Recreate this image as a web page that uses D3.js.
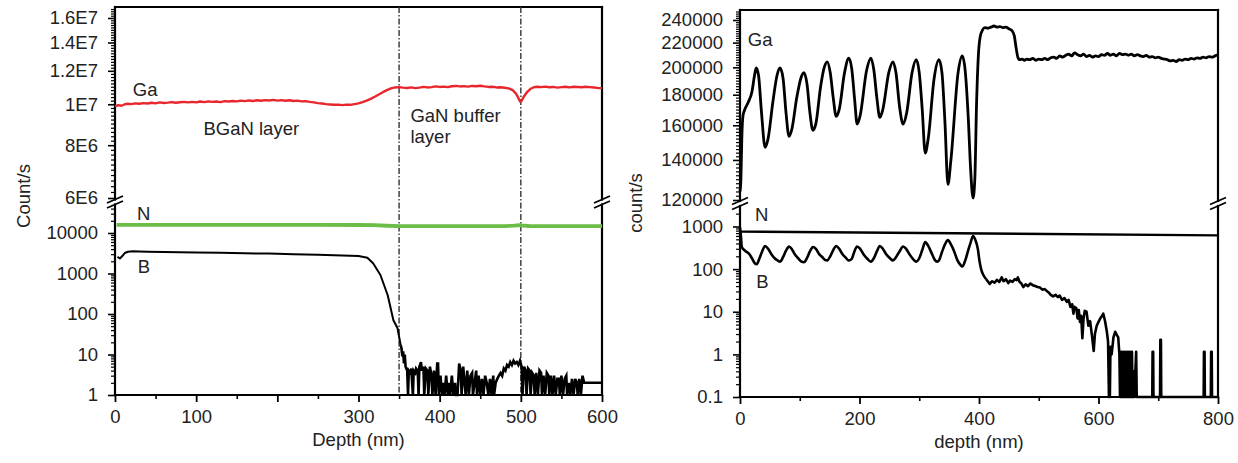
<!DOCTYPE html>
<html>
<head>
<meta charset="utf-8">
<script src="https://cdn.jsdelivr.net/npm/d3@7"></script>
<style>
  body { margin: 0; background: #fff; }
  svg { display: block; font-family: "Liberation Sans", Arial, sans-serif; }
</style>
</head>
<body>
<svg id="chart" width="1238" height="463"></svg>
<script>
// ---------- Left panel: BGaN on GaN buffer, depth (nm) vs counts/s ----------
const leftGa = [[0,9.89e6],[4,9.95e6],[8,9.92e6],[12,10.0e6],[16,10.03e6],[20,10.01e6],[25,10.05e6],[30,10.03e6],[35,10.06e6],[40,10.04e6],[45,10.08e6],[50,10.05e6],[55,10.1e6],[60,10.07e6],[65,10.09e6],[70,10.12e6],[75,10.08e6],[80,10.11e6],[85,10.13e6],[90,10.1e6],[95,10.13e6],[100,10.1e6],[105,10.15e6],[110,10.12e6],[115,10.16e6],[120,10.13e6],[125,10.15e6],[130,10.12e6],[135,10.17e6],[140,10.15e6],[145,10.18e6],[150,10.16e6],[155,10.2e6],[160,10.17e6],[165,10.21e6],[170,10.18e6],[175,10.22e6],[180,10.19e6],[185,10.23e6],[190,10.21e6],[195,10.24e6],[200,10.2e6],[205,10.23e6],[210,10.19e6],[215,10.22e6],[220,10.18e6],[225,10.2e6],[230,10.16e6],[235,10.17e6],[240,10.13e6],[245,10.1e6],[250,10.06e6],[255,10.04e6],[260,10.01e6],[265,9.99e6],[270,9.97e6],[275,9.98e6],[280,9.95e6],[285,9.98e6],[290,9.97e6],[295,10.01e6],[300,10.05e6],[305,10.12e6],[310,10.2e6],[315,10.3e6],[320,10.42e6],[325,10.55e6],[330,10.68e6],[335,10.8e6],[340,10.9e6],[345,10.96e6],[350,10.98e6],[355,10.95e6],[360,10.93e6],[365,10.96e6],[370,10.92e6],[375,10.95e6],[380,10.99e6],[385,10.96e6],[390,10.98e6],[395,11.02e6],[400,10.99e6],[405,11.01e6],[410,10.98e6],[415,11.03e6],[420,11.05e6],[425,11.02e6],[430,11.04e6],[435,11.01e6],[440,11.05e6],[445,11.03e6],[450,11.06e6],[455,11.02e6],[460,10.99e6],[465,11.0e6],[470,10.96e6],[475,10.97e6],[480,10.94e6],[485,10.9e6],[490,10.8e6],[494,10.6e6],[497,10.35e6],[499,10.15e6],[501,10.2e6],[504,10.45e6],[508,10.7e6],[512,10.88e6],[516,10.97e6],[520,11.0e6],[525,10.98e6],[530,11.01e6],[535,10.97e6],[540,10.99e6],[545,10.95e6],[550,10.98e6],[555,11.0e6],[560,10.96e6],[565,11.0e6],[570,10.99e6],[575,10.97e6],[580,11.0e6],[585,10.98e6],[590,10.96e6],[595,10.93e6],[600,10.92e6]];

const leftN = [[2,15800],[40,15900],[80,15800],[120,15900],[160,15800],[200,15850],[250,15800],[300,15750],[320,15600],[335,15100],[350,14800],[400,14850],[450,14800],[480,14850],[492,15200],[498,15600],[503,15300],[510,14900],[550,14800],[600,14750]];

const leftB = [[3,2600],[6,2350],[9,2700],[12,3200],[16,3450],[22,3550],[30,3500],[40,3450],[60,3400],[80,3350],[100,3300],[130,3250],[160,3150],[190,3100],[220,3000],[250,2900],[280,2800],[300,2700],[311,2450],[318,1800],[327,920],[336,290],[343,70],[348,45],[352,17],
  [353,14],[354,9],[355,12],[356,6],[357,10],[358,5],[360,4],[361,1],[362,4],[364,3.5],[365,4.5],[367,1],[368,4],[370,3.5],[371,4.5],[373,4],[374,1],[375,5],[377,6.5],[378,4],[380,5],[381,1],[383,4.5],[385,4],[386,1],[388,5],[390,3],[391,1],[393,4],[395,1],[397,6],[398,6],[399,1],[401,3],[403,1],[405,2],[406,1],[408,3],[410,1],[412,2],[413,1],[415,3],[417,1],[419,2],[420,1],[422,1],[424,6],[426,4],[427,1],[429,5],[430,3],[432,1],[434,4],[436,1],[438,3],[440,3.5],[441,1],[443,2],[445,4],[446,1],[448,3],[450,1],[452,2.5],[454,1],[456,3],[458,2],[460,1],[462,2.5],[464,1],[466,3],[467,1],[469,2],[471,2.5],[473,3],[475,3.5],[477,3],[479,4.5],[481,4],[483,5.5],[485,5],[487,6.5],[489,5.5],[491,7],[493,6],[495,6.5],[497,5.5],[499,7],[501,5],[502,1],[504,5],[506,4],[507,1],[509,4.5],[511,4],[512,1],[514,3.5],[516,3],[517,1],[519,3.5],[521,1],[523,4],[525,3.5],[526,1],[528,3],[530,1],[532,3.5],[534,3],[535,1],[537,3],[539,1],[541,3],[543,1],[545,2.5],[547,2.5],[548,1],[550,3],[552,1],[554,2.5],[556,3],[557,1],[559,2],[561,1],[563,2.5],[565,1],[567,2.5],[569,2],[570,1],[572,2.5],[574,1],[576,3],[578,2],[580,2],[584,2],[588,2],[592,2],[596,2],[600,2]];

const layerBoundaries = [350, 500];

const leftXTicks = [0, 100, 200, 300, 400, 500, 600];
const leftXLabels = ["0", "100", "", "300", "400", "500", "600"];
const leftXMinor = [50, 150, 250, 350, 450, 550];
const leftUpperTicks = [6e6, 8e6, 1e7, 1.2e7, 1.4e7, 1.6e7];
const leftUpperLabels = ["6E6", "8E6", "1E7", "1.2E7", "1.4E7", "1.6E7"];
const leftLowerTicks = [1, 10, 100, 1000, 10000];
const leftLowerLabels = ["1", "10", "100", "1000", "10000"];

// ---------- Right panel: depth (nm) vs count/s ----------
const rightGa = [[0,124000],[1.5,130000],[3,152000],[5,166000],[8,170000],[14,175000],[20,182000],[24,193000],[27,199500],[31,194000],[36,168000],[42,147000],[47,152000],[55,175000],[62,194000],[67,199500],[72,192000],[77,168000],[82,153400],[87,158000],[95,178000],[102,192000],[107,196000],[112,188000],[117,168000],[122,156900],[127,161000],[135,186000],[141,200000],[146,204300],[151,196000],[156,178000],[161,165600],[166,170000],[175,196000],[182,207300],[187,199000],[192,176000],[196,160700],[201,166000],[212,198000],[219,207300],[224,198000],[229,178000],[234,164900],[239,170000],[249,196000],[256,204300],[261,196000],[267,172000],[273,160700],[279,168000],[288,196000],[295,206000],[300,196000],[305,170000],[310,143700],[315,152000],[325,192000],[333,206000],[338,196000],[343,162000],[348,127400],[353,140000],[365,196000],[372,209000],[377,197000],[382,165000],[386,135000],[390,120900],[393,130000],[396,175000],[399,210000],[402,225000],[406,231000],[410,233000],[415,232500],[420,233500],[425,234500],[430,233500],[435,234000],[440,233000],[445,233500],[450,232000],[455,230500],[459,226000],[462,216000],[465,208000],[468,206000],[472,206500],[476,205500],[480,206500],[485,206000],[490,207000],[495,205500],[500,206500],[505,206000],[510,207000],[515,206000],[520,207500],[525,208000],[530,207000],[535,209000],[540,208000],[545,209500],[550,210500],[555,209000],[560,211500],[565,210000],[570,209000],[575,210500],[580,208500],[585,209500],[590,208000],[595,209000],[600,208500],[605,210000],[610,209500],[615,211000],[620,209500],[625,210500],[630,209000],[635,211000],[640,210000],[645,210500],[650,209500],[655,210500],[660,209000],[665,210000],[670,209000],[675,208500],[680,209500],[685,208000],[690,208500],[695,207500],[700,208000],[705,207000],[710,206500],[715,206000],[720,205000],[725,205500],[730,204500],[735,206000],[740,205500],[745,206500],[750,206000],[755,207000],[760,206500],[765,207500],[770,207000],[775,208000],[780,207500],[785,208500],[790,208000],[795,209000],[800,210000]];

const rightN = [[0, 760], [800, 620]];

const rightB = [[0,950],[1.5,600],[3,330],[6,290],[10,260],[15,230],[20,180],[25,135],[28,130],[32,170],[37,260],[42,350],[47,300],[52,230],[58,180],[63,160],[67,150],[72,190],[77,270],[82,340],[87,290],[92,220],[98,175],[103,150],[107,145],[112,180],[117,260],[122,330],[127,300],[132,230],[138,190],[142,165],[146,160],[151,200],[156,280],[161,350],[166,300],[171,230],[177,185],[182,160],[187,175],[191,250],[196,340],[201,300],[207,220],[213,175],[219,150],[224,180],[229,260],[234,350],[239,300],[245,220],[251,180],[256,160],[261,190],[267,260],[273,340],[278,300],[284,220],[290,170],[295,150],[300,180],[305,280],[310,430],[315,350],[320,250],[326,165],[330,150],[333,160],[338,250],[343,380],[348,480],[353,380],[358,270],[364,160],[369,125],[372,115],[377,160],[382,280],[386,420],[390,600],[394,480],[398,300],[401,150],[404,95],[408,70],[412,58],[418,45],
  [422,52],[426,48],[430,56],[434,50],[438,64],[441,52],[445,58],[449,47],[452,54],[456,50],[460,58],[463,55],[465,64],[468,50],[471,46],[474,38],[478,44],[482,40],[486,46],[490,42],[494,40],[498,38],[502,37],[506,33],[510,34],[513,31],[517,28],[520,25],[524,23],[528,25],[532,22],[535,24],[539,19],[543,21],[547,17],[550,19],[553,13],[556,15],[558,9],[560,13],[563,12],[565,7],[567,11],[569,5.8],[571,8],[573,2.4],[575,7],[577,10.5],[580,10],[583,4.7],[586,6],[589,2.8],[592,1.2],[594,3],[597,4.7],[600,5.8],[603,7],[606,8],[608,9],[611,6],[614,3.4],[616,2],[617.5,0],[619,0],[620,1.5],[622,1],[625,2.5],[628,3.4],[631,2.8],[633,2.5],[635,1],[636,0],[638,1.15],[639,0],[641,1.15],[642,0],[644,1.15],[645,0],[647,1.15],[648,0],[650,1.15],[651,0],[653,1.15],[654,0],[656,1.15],[657,0],[659,0.4],[660,0],[663,1.15],[664,0],[690,0],[690.5,1.15],[691.5,1.15],[692,0],[703,0],[703.5,2.2],[704.5,2.2],[705,0],[776,0],[776.5,1.15],[777.5,1.15],[778,0],[788,0],[788.5,1.15],[789.5,1.15],[790,0],[800,0]];

const rightXTicks = [0, 200, 400, 600, 800];
const rightXMinor = [100, 300, 500, 700];
const rightUpperTicks = [120000, 140000, 160000, 180000, 200000, 220000, 240000];
const rightLowerTicks = [0.1, 1, 10, 100, 1000];
const rightLowerLabels = ["0.1", "1", "10", "100", "1000"];

// ---------- drawing ----------
const svg = d3.select("#chart");
const FS = 18.5;

function logMinor(lo, hi) {
  const out = [];
  for (let d = Math.floor(Math.log10(lo)); d <= Math.ceil(Math.log10(hi)); d++) {
    for (let k = 2; k <= 9; k++) {
      const v = k * Math.pow(10, d);
      if (v > lo && v < hi) out.push(v);
    }
  }
  return out;
}

function drawPanel(p) {
  const g = svg.append("g");
  const { x, yU, yL } = p;
  const [x0, x1] = x.range();

  // y axis ticks: upper and lower segments, both logarithmic
  const yAxes = [
    { s: yU, ticks: p.upperTicks, labels: p.upperLabels, minor: p.upperMinor },
    { s: yL, ticks: p.lowerTicks, labels: p.lowerLabels, minor: p.lowerMinor }
  ];
  yAxes.forEach(a => {
    g.append("g").attr("transform", `translate(${x0},0)`)
      .call(d3.axisLeft(a.s).tickValues(a.minor).tickSize(4).tickFormat(""))
      .call(s => s.select(".domain").remove())
      .call(s => s.selectAll("line").attr("stroke", "#000").attr("stroke-width", 1.2));
    g.append("g").attr("transform", `translate(${x0},0)`)
      .call(d3.axisLeft(a.s).tickValues(a.ticks).tickSize(7).tickPadding(10)
        .tickFormat((d, i) => a.labels[i]))
      .call(s => s.select(".domain").remove())
      .call(s => s.selectAll("line").attr("stroke", "#000").attr("stroke-width", 1.6))
      .call(s => s.selectAll("text").attr("font-size", FS).attr("fill", "#222")
        .attr("font-family", '"Liberation Sans", Arial, sans-serif'));
  });

  // x axis
  const xg = g.append("g").attr("transform", `translate(0,${p.bottom})`);
  xg.append("g")
    .call(d3.axisBottom(x).tickValues(p.xMinor).tickSize(4).tickFormat(""))
    .call(s => s.select(".domain").remove())
    .call(s => s.selectAll("line").attr("stroke", "#000").attr("stroke-width", 1.6));
  xg.append("g")
    .call(d3.axisBottom(x).tickValues(p.xTicks).tickSize(7).tickPadding(8)
      .tickFormat((d, i) => p.xLabels[i]))
    .call(s => s.select(".domain").remove())
    .call(s => s.selectAll("line").attr("stroke", "#000").attr("stroke-width", 1.8))
    .call(s => s.selectAll("text").attr("font-size", FS).attr("fill", "#222")
      .attr("font-family", '"Liberation Sans", Arial, sans-serif'));

  // frame with axis breaks
  const frame = [
    [x0, p.top, x1, p.top],
    [x0, p.bottom, x1, p.bottom],
    [x0, p.top, x0, p.brkUp], [x0, p.brkLo, x0, p.bottom],
    [x1, p.top, x1, p.brkUp], [x1, p.brkLo, x1, p.bottom]
  ];
  g.append("g").selectAll("line").data(frame).join("line")
    .attr("x1", d => d[0]).attr("y1", d => d[1]).attr("x2", d => d[2]).attr("y2", d => d[3])
    .attr("stroke", "#000").attr("stroke-width", 2.2).attr("stroke-linecap", "square");

  // break marks "//"
  const marks = [];
  [x0, x1].forEach(cx => [p.brkUp, p.brkLo].forEach(cy => marks.push([cx, cy])));
  g.append("g").selectAll("line").data(marks).join("line")
    .attr("x1", d => d[0] - 8).attr("y1", d => d[1] + 3.5)
    .attr("x2", d => d[0] + 8).attr("y2", d => d[1] - 3.5)
    .attr("stroke", "#000").attr("stroke-width", 1.8);

  // axis titles
  g.append("text").attr("x", (x0 + x1) / 2).attr("y", p.bottom + 51)
    .attr("text-anchor", "middle").attr("font-size", FS).attr("fill", "#222").text(p.xTitle);
  g.append("text")
    .attr("transform", `translate(${p.yTitleX},${p.yTitleY}) rotate(-90)`)
    .attr("text-anchor", "middle").attr("font-size", FS).attr("fill", "#222").text(p.yTitle);

  return g;
}

// Left panel scales
const xL = d3.scaleLinear([0, 600], [115, 602]);
const yLU = d3.scaleLog([6e6, 1.6e7], [198, 18]);
const yLL = d3.scaleLog([1, 1e4], [395, 233]);
const leftPanel = {
  x: xL, yU: yLU, yL: yLL, top: 7, bottom: 395, brkUp: 199.5, brkLo: 204.5,
  upperTicks: leftUpperTicks, upperLabels: leftUpperLabels,
  upperMinor: d3.range(6.2e6, 1.7e7, 2e5).filter(v => Math.abs(v / 2e6 - Math.round(v / 2e6)) > 0.01),
  lowerTicks: leftLowerTicks, lowerLabels: leftLowerLabels,
  lowerMinor: logMinor(1, 45000),
  xTicks: leftXTicks, xLabels: leftXLabels, xMinor: leftXMinor,
  xTitle: "Depth (nm)", yTitle: "Count/s", yTitleX: 30, yTitleY: 196
};
const gl = drawPanel(leftPanel);

// layer boundaries (dash-dot)
gl.append("g").selectAll("line").data(layerBoundaries).join("line")
  .attr("x1", d => xL(d)).attr("x2", d => xL(d))
  .attr("y1", leftPanel.top).attr("y2", leftPanel.bottom)
  .attr("stroke", "#333").attr("stroke-width", 1.4).attr("stroke-dasharray", "6,2,1.5,2");

const lowL = v => yLL(Math.max(v, 1));
gl.append("path").datum(leftN)
  .attr("d", d3.line().x(d => xL(d[0])).y(d => lowL(d[1])))
  .attr("fill", "none").attr("stroke", "#6cbd47").attr("stroke-width", 3.8);
gl.append("path").datum(leftB.filter(d => d[0] <= 352))
  .attr("d", d3.line().x(d => xL(d[0])).y(d => lowL(d[1])))
  .attr("fill", "none").attr("stroke", "#000").attr("stroke-width", 2).attr("stroke-linejoin", "round");
gl.append("path").datum(leftB.filter(d => d[0] >= 352))
  .attr("d", d3.line().x(d => xL(d[0])).y(d => lowL(d[1])))
  .attr("fill", "none").attr("stroke", "#000").attr("stroke-width", 2.6).attr("stroke-linejoin", "miter");
gl.append("path").datum(leftGa)
  .attr("d", d3.line().x(d => xL(d[0])).y(d => yLU(d[1])))
  .attr("fill", "none").attr("stroke", "#e8262b").attr("stroke-width", 2.4).attr("stroke-linejoin", "round");

const leftNotes = [
  { t: "Ga", d: 22, y: yLU(1.045e7) },
  { t: "BGaN layer", d: 109, y: yLU(8.44e6) },
  { t: "GaN buffer", d: 364, y: yLU(9.1e6) },
  { t: "layer", d: 364, y: yLU(8.1e6) },
  { t: "N", d: 27, y: yLL(21000) },
  { t: "B", d: 28, y: yLL(1030) }
];
gl.append("g").selectAll("text").data(leftNotes).join("text")
  .attr("x", d => xL(d.d)).attr("y", d => d.y)
  .attr("font-size", FS).attr("fill", "#222").text(d => d.t);

// Right panel scales
const xR = d3.scaleLinear([0, 800], [740, 1218]);
const yRU = d3.scaleLog([1.2e5, 2.4e5], [200, 20]);
const yRL = d3.scaleLog([0.1, 1000], [397, 226.5]);
const rightPanel = {
  x: xR, yU: yRU, yL: yRL, top: 10, bottom: 397, brkUp: 201, brkLo: 206,
  upperTicks: rightUpperTicks, upperLabels: rightUpperTicks.map(String),
  upperMinor: d3.range(122000, 250000, 2000).filter(v => v % 20000 !== 0),
  lowerTicks: rightLowerTicks, lowerLabels: rightLowerLabels,
  lowerMinor: logMinor(0.1, 3000),
  xTicks: rightXTicks, xLabels: rightXTicks.map(String), xMinor: rightXMinor,
  xTitle: "depth (nm)", yTitle: "count/s", yTitleX: 642, yTitleY: 203
};
const gr = drawPanel(rightPanel);

const lowR = v => yRL(Math.max(v, 0.1));
gr.append("path").datum(rightN)
  .attr("d", d3.line().x(d => xR(d[0])).y(d => lowR(d[1])))
  .attr("fill", "none").attr("stroke", "#000").attr("stroke-width", 2.4);
gr.append("path").datum(rightB.filter(d => d[0] <= 412))
  .attr("d", d3.line().curve(d3.curveMonotoneX).x(d => xR(d[0])).y(d => lowR(d[1])))
  .attr("fill", "none").attr("stroke", "#000").attr("stroke-width", 2.6).attr("stroke-linejoin", "round");
gr.append("path").datum(rightB.filter(d => d[0] >= 412))
  .attr("d", d3.line().x(d => xR(d[0])).y(d => lowR(d[1])))
  .attr("fill", "none").attr("stroke", "#000").attr("stroke-width", 2.6).attr("stroke-linejoin", "round");
gr.append("path").datum(rightGa)
  .attr("d", d3.line().curve(d3.curveMonotoneX).x(d => xR(d[0])).y(d => yRU(d[1])))
  .attr("fill", "none").attr("stroke", "#000").attr("stroke-width", 2.8).attr("stroke-linejoin", "round");

const rightNotes = [
  { t: "Ga", d: 13, y: yRU(217000) },
  { t: "N", d: 25, y: yRL(1380) },
  { t: "B", d: 27, y: yRL(35.5) }
];
gr.append("g").selectAll("text").data(rightNotes).join("text")
  .attr("x", d => xR(d.d)).attr("y", d => d.y)
  .attr("font-size", FS).attr("fill", "#222").text(d => d.t);
</script>
</body>
</html>
